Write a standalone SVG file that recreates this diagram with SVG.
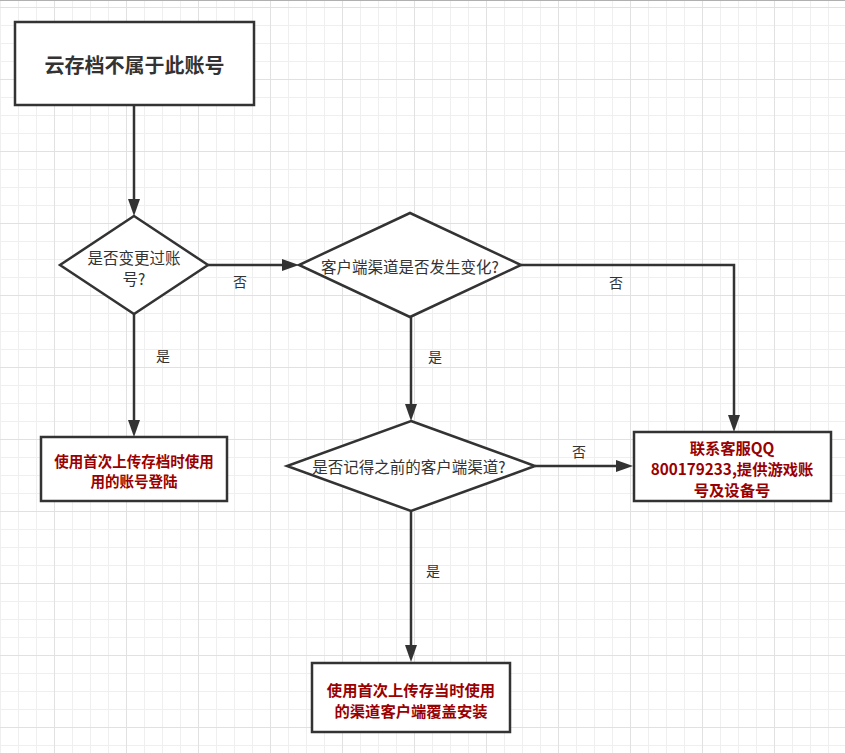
<svg xmlns="http://www.w3.org/2000/svg" width="845" height="753" viewBox="0 0 845 753">
<style>
.box{fill:#fff;stroke:#333;stroke-width:2.5}
.dia{fill:#fff;stroke:#333;stroke-width:2.5}
.con{fill:none;stroke:#333;stroke-width:2.5}
text{font-family:"Noto Sans CJK SC","Noto Sans",sans-serif;text-anchor:middle;dominant-baseline:central}
.t0{font-size:20px;font-weight:bold;fill:#333}
.tq{font-size:15.5px;fill:#333}
.tr{font-weight:bold;fill:#9a0000}
.lb{font-size:14px;fill:#333}
</style>
<defs>
<pattern id="grid" patternUnits="userSpaceOnUse" x="54" y="7" width="72" height="72">
<rect width="72" height="72" fill="#fff"/>
<path d="M18.5 0V72M36.5 0V72M54.5 0V72M0 18.5H72M0 36.5H72M0 54.5H72" stroke="#efefef" stroke-width="1"/>
<path d="M0.5 0V72M0 0.5H72" stroke="#e1e1e1" stroke-width="1"/>
</pattern>
<marker id="ah" markerUnits="userSpaceOnUse" markerWidth="18" markerHeight="12" refX="7" refY="6" orient="auto">
<path d="M0,0 L17,6 L0,12 z" fill="#333"/>
</marker>
</defs>
<rect width="845" height="753" fill="url(#grid)"/>
<rect x="0" y="0" width="845" height="1" fill="#b0b0b0"/>

<g id="connectors">
<path class="con" d="M134,105 V206" marker-end="url(#ah)"/>
<path class="con" d="M134,314 V427" marker-end="url(#ah)"/>
<path class="con" d="M208,265 H289" marker-end="url(#ah)"/>
<path class="con" d="M521,265 H734 V422" marker-end="url(#ah)"/>
<path class="con" d="M411,317 V411" marker-end="url(#ah)"/>
<path class="con" d="M535,466 H623" marker-end="url(#ah)"/>
<path class="con" d="M411,511 V652" marker-end="url(#ah)"/>
<text class="lb" x="240" y="281">否</text>
<text class="lb" x="616" y="282">否</text>
<text class="lb" x="163" y="355">是</text>
<text class="lb" x="435" y="356">是</text>
<text class="lb" x="579" y="451">否</text>
<text class="lb" x="433" y="570">是</text>
</g>

<g id="start">
<rect class="box" x="15" y="22" width="239" height="83"/>
<text class="t0" x="134.5" y="64">云存档不属于此账号</text>
</g>

<g id="q1">
<polygon class="dia" points="134,216 208,265 134,314 60,265"/>
<text class="tq" x="134" y="257">是否变更过账</text>
<text class="tq" x="134" y="278">号?</text>
</g>

<g id="q2">
<polygon class="dia" points="410,213 521,265 410,317 299,265"/>
<text class="tq" x="410" y="266">客户端渠道是否发生变化?</text>
</g>

<g id="q3">
<polygon class="dia" points="411,421 535,466 411,511 287,466"/>
<text class="tq" x="409" y="466">是否记得之前的客户端渠道?</text>
</g>

<g id="login">
<rect class="box" x="41" y="437" width="186" height="64"/>
<text class="tr" style="font-size:14.5px" x="134" y="460">使用首次上传存档时使用</text>
<text class="tr" style="font-size:14.5px" x="134" y="480">用的账号登陆</text>
</g>

<g id="service">
<rect class="box" x="634" y="432" width="197" height="69"/>
<text class="tr" style="font-size:15.3px" x="732" y="446.5">联系客服QQ</text>
<text class="tr" style="font-size:15.3px" x="732" y="467.5">800179233,提供游戏账</text>
<text class="tr" style="font-size:15.3px" x="732" y="488.5">号及设备号</text>
</g>

<g id="reinstall">
<rect class="box" x="312" y="663" width="198" height="69"/>
<text class="tr" style="font-size:15.3px" x="411" y="689">使用首次上传存当时使用</text>
<text class="tr" style="font-size:15.3px" x="411" y="710">的渠道客户端覆盖安装</text>
</g>
</svg>
